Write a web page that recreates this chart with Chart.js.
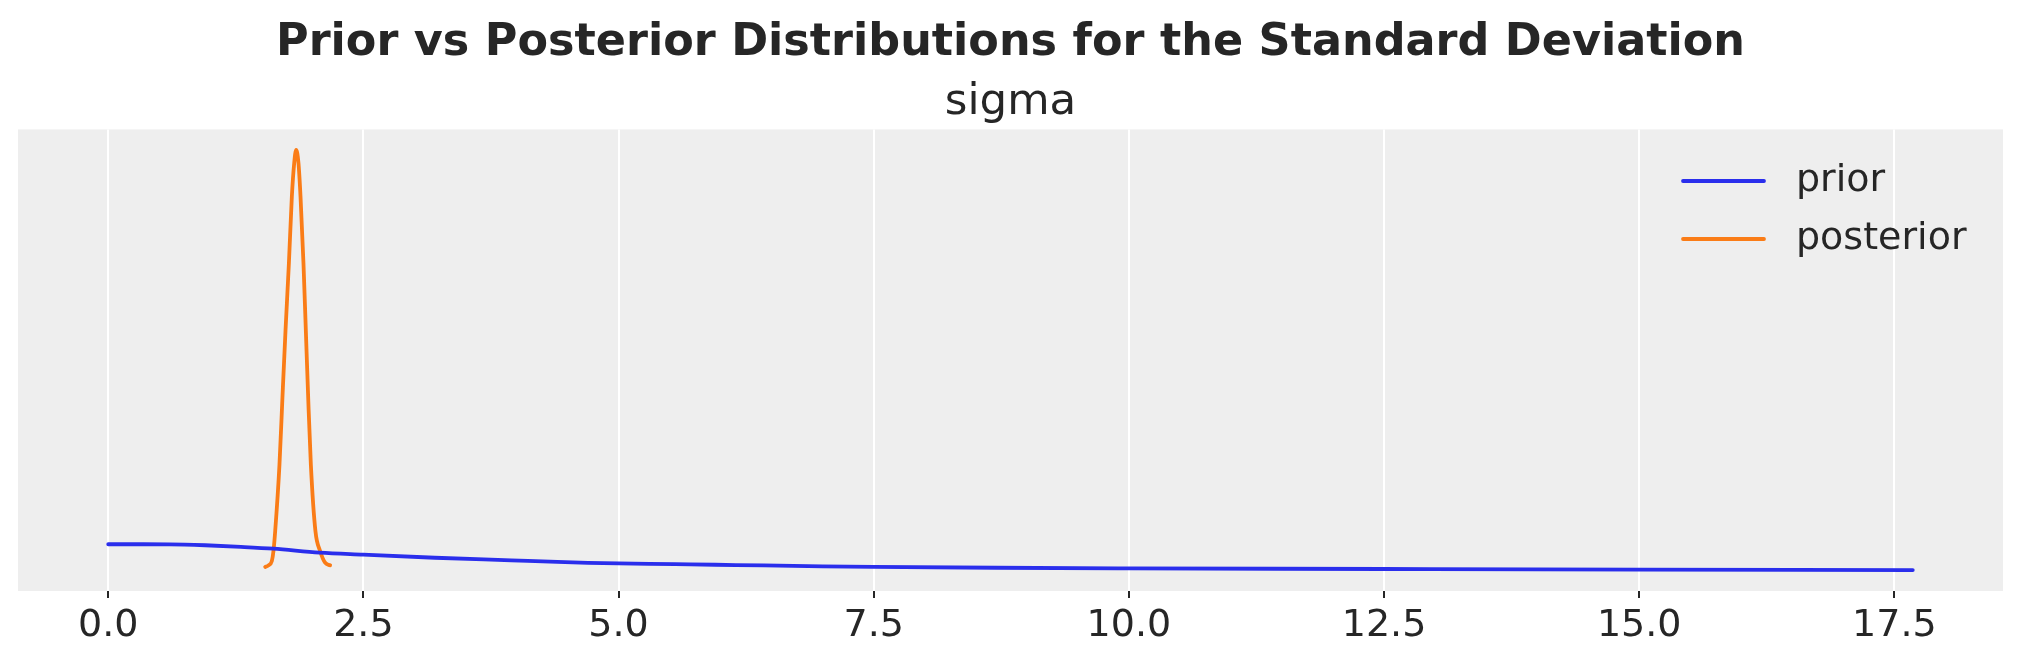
<!DOCTYPE html>
<html>
<head>
<meta charset="utf-8">
<script src="https://cdn.jsdelivr.net/npm/chart.js@4.4.0/dist/chart.umd.min.js"></script>
<style>
  html, body { margin: 0; padding: 0; background: #ffffff; }
  #wrap { width: 2023px; height: 666px; }
</style>
</head>
<body>
<div id="wrap"><canvas id="c" width="2023" height="666"></canvas></div>
<script>
// ---- data ----
const mainTitle = "Prior vs Posterior Distributions for the Standard Deviation";
const subTitle = "sigma";
const seriesNames = ["prior", "posterior"];
const tickValues = [0, 2.5, 5, 7.5, 10, 12.5, 15, 17.5];

const priorX = [0, 0.3, 0.6, 0.95, 1.3, 1.62, 2.07, 2.5, 3.2, 3.95, 4.4, 4.7, 5.3, 5.7, 6.15, 7.0, 7.5, 8.7, 10, 12.5, 15, 17.68];
const priorY = [0.324, 0.324, 0.323, 0.312, 0.293, 0.271, 0.224, 0.200, 0.164, 0.133, 0.114, 0.104, 0.092, 0.085, 0.077, 0.062, 0.055, 0.045, 0.038, 0.030, 0.022, 0.018];

const postX = [1.538, 1.570, 1.603, 1.619, 1.636, 1.678, 1.707, 1.737, 1.770, 1.799, 1.822, 1.841, 1.864, 1.884, 1.913, 1.936, 1.959, 1.985, 2.030, 2.076, 2.125, 2.174];
const postY = [0.054, 0.074, 0.125, 0.244, 0.482, 1.276, 2.069, 2.863, 3.657, 4.450, 4.848, 5.006, 4.848, 4.450, 3.657, 2.863, 2.069, 1.276, 0.482, 0.244, 0.105, 0.074];

const colors = ["#2a2eec", "#fa7c17"];
const textColor = "#262626";
const FONT = "'DejaVu Sans', 'Liberation Sans', sans-serif";

function toPoints(xs, ys) { return xs.map((x, i) => ({ x: x, y: ys[i] })); }

const bgPlugin = {
  id: 'bg',
  beforeDraw(chart) {
    const a = chart.chartArea, ctx = chart.ctx;
    ctx.save();
    ctx.fillStyle = '#eeeeee';
    ctx.fillRect(a.left, a.top, a.right - a.left, a.bottom - a.top);
    ctx.restore();
  }
};

const legendPlugin = {
  id: 'insideLegend',
  afterDatasetsDraw(chart) {
    const ctx = chart.ctx;
    const x0 = 1683, x1 = 1764, tx = 1796;
    const ys = [181, 239];
    ctx.save();
    chart.data.datasets.forEach((ds, i) => {
      ctx.strokeStyle = ds.borderColor;
      ctx.lineWidth = 3.8;
      ctx.lineCap = 'round';
      ctx.beginPath();
      ctx.moveTo(x0, ys[i]);
      ctx.lineTo(x1, ys[i]);
      ctx.stroke();
      ctx.fillStyle = textColor;
      ctx.font = "38px " + FONT;
      ctx.textBaseline = 'middle';
      ctx.textAlign = 'left';
      ctx.fillText(ds.label, tx, ys[i]);
    });
    ctx.restore();
  }
};

new Chart(document.getElementById('c'), {
  type: 'line',
  data: {
    datasets: [
      {
        label: seriesNames[0],
        data: toPoints(priorX, priorY),
        borderColor: colors[0],
        backgroundColor: colors[0],
        borderWidth: 3.8,
        pointRadius: 0,
        cubicInterpolationMode: 'monotone',
        borderCapStyle: 'round',
        fill: false
      },
      {
        label: seriesNames[1],
        data: toPoints(postX, postY),
        borderColor: colors[1],
        backgroundColor: colors[1],
        borderWidth: 3.8,
        pointRadius: 0,
        cubicInterpolationMode: 'monotone',
        borderCapStyle: 'round',
        fill: false
      }
    ]
  },
  options: {
    responsive: false,
    animation: false,
    devicePixelRatio: 1,
    layout: { padding: { left: 18, right: 20, top: 0, bottom: 12.4 } },
    plugins: {
      legend: { display: false },
      tooltip: { enabled: false },
      title: {
        display: true,
        text: mainTitle,
        color: textColor,
        font: { family: FONT, size: 44.5, weight: 'bold' },
        padding: { top: 16.4, bottom: 0 }
      },
      subtitle: {
        display: true,
        text: subTitle,
        color: textColor,
        font: { family: FONT, size: 43.5, weight: 'normal' },
        padding: { top: 6.8, bottom: 0.6 }
      }
    },
    scales: {
      x: {
        type: 'linear',
        min: -0.884,
        max: 18.564,
        afterBuildTicks(scale) { scale.ticks = tickValues.map(v => ({ value: v })); },
        ticks: {
          color: textColor,
          font: { family: FONT, size: 38 },
          padding: 5,
          maxRotation: 0,
          autoSkip: false,
          callback: (v) => Number(v).toFixed(1)
        },
        grid: {
          color: '#ffffff',
          lineWidth: 2,
          tickColor: textColor,
          tickLength: 7,
          tickWidth: 2,
          drawOnChartArea: true,
          drawTicks: true
        },
        border: { display: false }
      },
      y: {
        type: 'linear',
        display: false,
        min: -0.231,
        max: 5.249
      }
    }
  },
  plugins: [bgPlugin, legendPlugin]
});
</script>
</body>
</html>
